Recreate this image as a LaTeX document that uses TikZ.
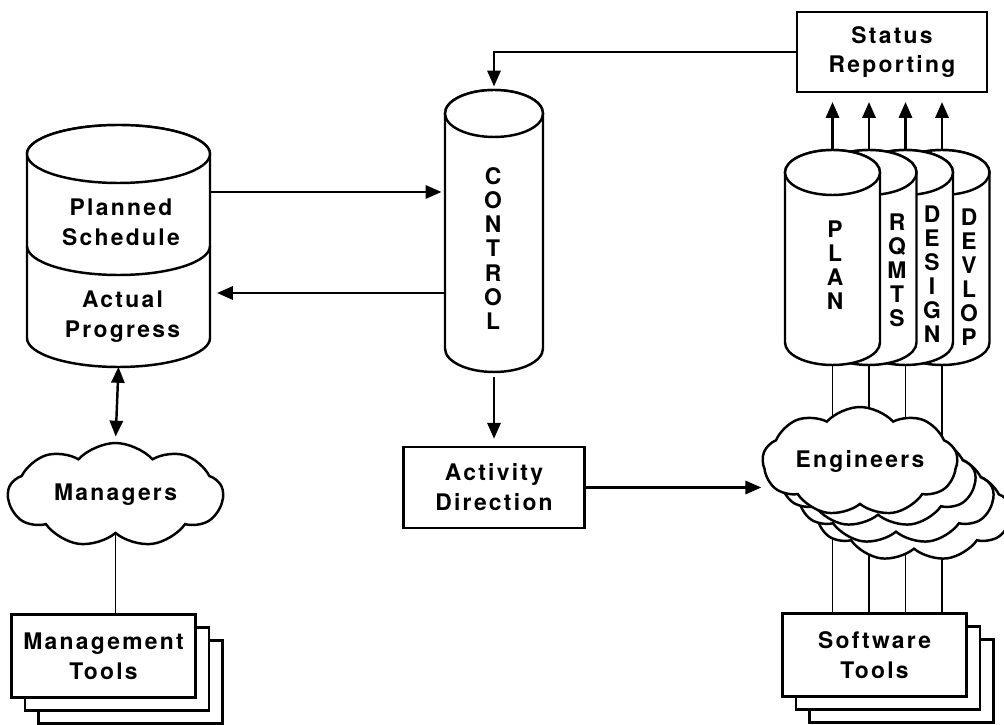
\documentclass[tikz,border=0pt]{standalone}
\usepackage{fontspec}
\newfontfamily\diagfont[LetterSpace=10]{TeX Gyre Heros}
\usetikzlibrary{shapes.symbols,arrows.meta,shadows,calc,positioning}

\tikzset{
  drum/.style={rectangle,inner sep=0pt,outer sep=0pt},
  drumline/.style={draw,fill=white,line width=1.4pt},
  lbl/.style={font=\diagfont\bfseries\fontsize{13}{17}\selectfont,
              align=center,inner sep=0pt},
  vlbl/.style={font=\diagfont\bfseries\fontsize{13}{13.7}\selectfont,
               align=center,inner sep=0pt},
  box/.style={lbl,rectangle,draw,fill=white,line width=1.4pt},
  toolbox/.style={box,minimum width=3.68cm,minimum height=1.66cm,
                  double copy shadow={shadow xshift=0.27cm,shadow yshift=-0.26cm}},
  cloudy/.style={lbl,cloud,cloud puffs=9,cloud puff arc=95,aspect=2.1,draw,fill=white,
                 line width=1.4pt},
  engcloud/.style={cloudy,minimum width=3.9cm,minimum height=1.95cm},
  arr/.style={-{Triangle[length=9pt,width=7.5pt]},line width=1.4pt},
  darr/.style={{Triangle[length=9pt,width=7.5pt]}-{Triangle[length=9pt,width=7.5pt]},
               line width=1.4pt},
  wire/.style={line width=0.8pt},
}

% outline of a drum around node #1, x radius #2, y radius #3
\newcommand{\drawdrum}[3]{%
  \draw[drumline] ([yshift=-#3]#1.north west) -- ([yshift=#3]#1.south west)
    arc[start angle=180,end angle=360,x radius=#2,y radius=#3]
    -- ([yshift=-#3]#1.north east)
    arc[start angle=0,end angle=180,x radius=#2,y radius=#3] -- cycle;
  \draw[drumline] ([yshift=-#3]#1.north) ellipse[x radius=#2,y radius=#3];}

\begin{document}
\begin{tikzpicture}
    \useasboundingbox (0,0) rectangle (20.08,-14.5);

    % Drums
    \node[drum,minimum width=3.66cm,minimum height=4.84cm] (sched) at (2.37,-4.92) {};
    \node[drum,minimum width=1.96cm,minimum height=5.64cm] (control) at (9.88,-4.62) {};
    \node[drum,minimum width=1.9cm,minimum height=4.3cm] (devlop) at (18.84,-5.15) {};
    \node[drum,minimum width=1.9cm,minimum height=4.3cm] (design) at (18.11,-5.15) {};
    \node[drum,minimum width=1.9cm,minimum height=4.3cm] (rqmts) at (17.38,-5.15) {};
    \node[drum,minimum width=1.9cm,minimum height=4.3cm] (plan) at (16.65,-5.15) {};
    \drawdrum{sched}{1.83cm}{0.58cm}
    \draw[line width=1.4pt] (sched.west) arc[start angle=180,end angle=360,x radius=1.83cm,y radius=0.58cm];
    \drawdrum{control}{0.98cm}{0.47cm}
    \foreach \d in {devlop,design,rqmts,plan} {\drawdrum{\d}{0.95cm}{0.45cm}}

    % Boxes and clouds
    \node[box,minimum width=3.8cm,minimum height=1.6cm] (status) at (17.84,-1.04) {Status\\Reporting};
    \node[box,minimum width=3.62cm,minimum height=1.62cm] (activity) at (9.88,-9.75) {Activity\\Direction};
    \node[toolbox] (mtools) at (2.07,-13.12) {Management\\Tools};
    \node[toolbox] (swtools) at (17.49,-13.1) {Software\\Tools};
    \node[cloudy,minimum width=4.3cm,minimum height=2.08cm] (managers) at (2.31,-9.9) {Managers};

    \foreach \d in {plan,rqmts,design,devlop} \draw[wire] (\d.south) -- (\d.south |- swtools.north);
    \foreach \k in {3,2,1} \node[engcloud] (eng\k) at ({17.2+0.36*\k},{-9.23-0.34*\k}) {};
    \node[engcloud] (engineers) at (17.2,-9.23) {Engineers};

    % Labels
    \node[lbl] (plannedtxt) at (2.42,-4.44) {Planned\\Schedule};
    \node[lbl] (actualtxt) at (2.45,-6.34) {Actual\\Progress};
    \node[vlbl] (controltxt) at (9.86,-4.97) {C\\O\\N\\T\\R\\O\\L};
    \node[vlbl] (plantxt) at (16.7,-5.3) {P\\L\\A\\N};
    \node[vlbl] (rqmtstxt) at (17.94,-5.4) {R\\Q\\M\\T\\S};
    \node[vlbl] (designtxt) at (18.64,-5.48) {D\\E\\S\\I\\G\\N};
    \node[vlbl] (devloptxt) at (19.38,-5.54) {D\\E\\V\\L\\O\\P};

    % Edges
    \coordinate (toctl) at ([yshift=1.08cm]sched.east);
    \coordinate (fromctl) at ([yshift=-0.94cm]sched.east);
    \draw[arr,shorten >=2pt] (toctl) -- (toctl -| control.west);
    \draw[arr,shorten >=4pt] (fromctl -| control.west) -- (fromctl);
    \draw[arr,shorten >=2pt] (status.west) -| (control.north);
    \draw[arr,shorten <=3pt,shorten >=4pt] (control.south) -- (control.south |- activity.north);
    \draw[arr] (activity.east) -- (activity.east -| engineers.west);
    \draw[darr,shorten >=3pt] (sched.south) -- (managers.north);
    \draw[wire] (managers.south) -- (managers.south |- mtools.north);
    \foreach \d in {plan,rqmts,design,devlop} \draw[arr,shorten >=5pt] (\d.north) -- (\d.north |- status.south);
\end{tikzpicture}
\end{document}
